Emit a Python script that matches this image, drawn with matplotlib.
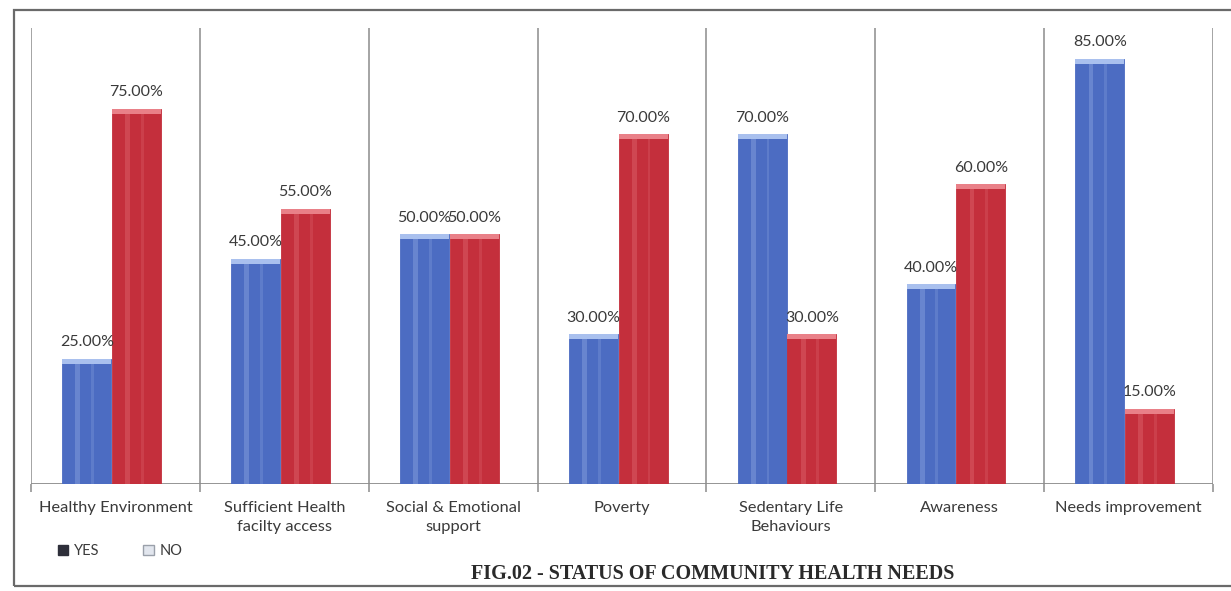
import matplotlib
matplotlib.use("Agg")
import matplotlib.pyplot as plt
from matplotlib.patches import Rectangle, Patch

categories = ["Healthy Environment", "Sufficient Health\nfacilty access",
              "Social & Emotional\nsupport", "Poverty", "Sedentary Life\nBehaviours",
              "Awareness", "Needs improvement"]
yes_vals = [25, 45, 50, 30, 70, 40, 85]
no_vals = [75, 55, 50, 70, 30, 60, 15]
series_names = ["YES", "NO"]
title_text = "FIG.02 - STATUS OF COMMUNITY HEALTH NEEDS"

blue = "#4c6cc2"
blue_light = "#a9c0ee"
red = "#c42f3c"
red_light = "#e98088"
grid_col = "#8c8c8c"
label_col = "#3a3a3a"

fig = plt.figure(figsize=(12.31, 5.91), dpi=100)
fig.patch.set_facecolor("white")

# outer frame around the chart
fig.patches.append(Rectangle((14 / 1231, 5 / 591), 1.05, 576 / 591,
                             transform=fig.transFigure, fill=False,
                             edgecolor="#6a6a6a", linewidth=1.6))

ax = fig.add_axes([31 / 1231, 107 / 591, 1182 / 1231, 456 / 591])
ax.set_xlim(-0.5, len(categories) - 0.5)
ax.set_ylim(0, 91.2)
for s in ax.spines.values():
    s.set_visible(False)
ax.set_yticks([])

x = list(range(len(categories)))
w = 0.29
off_yes, off_no = -0.17, 0.125

def draw_series(vals, off, base, light):
    xs = [i + off for i in x]
    ax.bar(xs, vals, width=w, color=base, edgecolor=base, linewidth=0.6, zorder=3)
    # soft highlight strips down the bar faces
    ax.bar([p - w * 0.18 for p in xs], vals, width=w * 0.10, color=light,
           alpha=0.30, linewidth=0, zorder=4)
    ax.bar([p + w * 0.12 for p in xs], vals, width=w * 0.06, color=light,
           alpha=0.20, linewidth=0, zorder=4)
    # bevelled top cap
    ax.bar(xs, [1.0] * len(vals), bottom=[v - 1.0 for v in vals], width=w,
           color=light, linewidth=0, zorder=5)
    for p, v in zip(xs, vals):
        ax.text(p, v + 1.9, f"{v:.2f}%", ha="center", va="bottom",
                fontsize=11.5, color=label_col, family="Lato", zorder=6)

draw_series(yes_vals, off_yes, blue, blue_light)
draw_series(no_vals, off_no, red, red_light)

# category separators and baseline
for b in range(len(categories) + 1):
    ax.axvline(b - 0.5, color=grid_col, linewidth=1.1, zorder=1)
ax.axhline(0, color=grid_col, linewidth=1.3, zorder=2)

ax.set_xticks([b - 0.5 for b in range(len(categories) + 1)])
ax.set_xticklabels([])
ax.tick_params(axis="x", length=6, color=grid_col, width=1.1)
ax.set_xticks(x, minor=True)
ax.set_xticklabels(categories, minor=True, fontsize=11.8, family="Lato",
                   color=label_col, linespacing=1.5)
ax.tick_params(axis="x", which="minor", length=0, pad=12)

handles = [Patch(facecolor="#2e2f3a", edgecolor="#2e2f3a"),
           Patch(facecolor="#e2e6ee", edgecolor="#9aa0aa")]
leg = fig.legend(handles, series_names, loc="center left",
                 bbox_to_anchor=(45 / 1231, 1 - 551 / 591), ncol=2, frameon=False,
                 prop={"family": "Lato", "size": 10.5}, handlelength=0.7,
                 handleheight=0.7, handletextpad=0.4, columnspacing=3.0)
for t in leg.get_texts():
    t.set_color(label_col)

fig.text(713 / 1231, 1 - 574 / 591, title_text, ha="center", va="center",
         fontsize=14.5, fontweight="bold", family="Liberation Serif", color="#2a2a2a")

fig.savefig("out.png", dpi=100)
